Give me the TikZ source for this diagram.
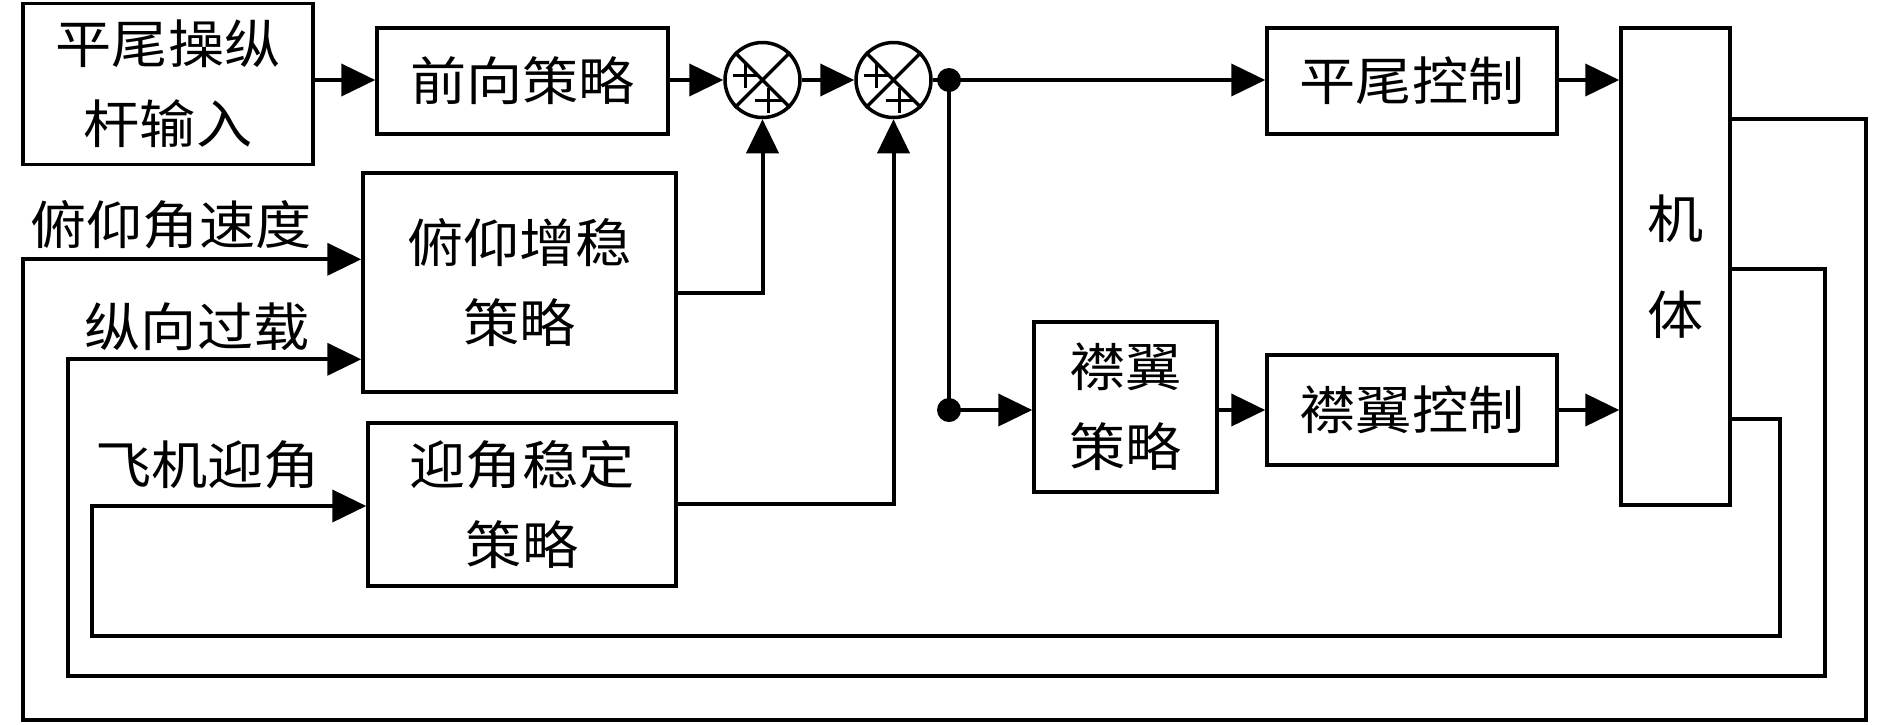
\documentclass[tikz,border=0pt]{standalone}
\usepackage{fontspec}
\newfontfamily\cjk[FakeStretch=1.08]{Noto Sans CJK SC}
\usetikzlibrary{arrows.meta}
\begin{document}
\begin{tikzpicture}[x=1pt,y=-1pt,
  blk/.style={draw, line width=3.5pt, inner sep=0pt, align=center,
    font={\cjk\fontsize{52}{80}\selectfont}},
  lbl/.style={inner sep=0pt, font={\cjk\fontsize{52}{80}\selectfont}},
  con/.style={line width=4pt},
  arr/.style={con, -{Triangle[length=34pt,width=32pt]}},
  sumnode/.style={draw, circle, line width=3.5pt, minimum size=75pt, inner sep=0pt},
  dotnode/.style={circle, fill, minimum size=24pt, inner sep=0pt}]
\useasboundingbox (0,0) rectangle (1890,724);

% blocks
\node[blk, minimum width=290pt, minimum height=161pt] (in1) at (168,84) {平尾操纵\\杆输入};
\node[blk, minimum width=291pt, minimum height=106pt] (fwd) at (522.5,81) {前向策略};
\node[sumnode] (s1) at (762.5,80) {};
\node[sumnode] (s2) at (893.5,80) {};
\node[dotnode] (d1) at (949,80) {};
\node[blk, minimum width=290pt, minimum height=106pt] (htc) at (1412,81) {平尾控制};
\node[blk, minimum width=109pt, minimum height=477pt] (body) at (1675.5,266.5) {机\\[16pt]体};
\node[blk, minimum width=313pt, minimum height=219pt] (pitch) at (519.5,282.5) {俯仰增稳\\策略};
\node[blk, minimum width=308pt, minimum height=163pt] (aoa) at (522,504.5) {迎角稳定\\策略};
\node[blk, minimum width=183pt, minimum height=170pt] (flaps) at (1125.5,407) {襟翼\\策略};
\node[blk, minimum width=290pt, minimum height=110pt] (flapc) at (1412,410) {襟翼控制};
\node[dotnode] (d2) at (949,410) {};

% input labels
\node[lbl] (l1) at (171,225) {俯仰角速度};
\node[lbl] (l2) at (197,327) {纵向过载};
\node[lbl] (l3) at (207.5,465) {飞机迎角};

% summing junction marks
\foreach \s in {s1,s2}{
  \draw[line width=3.5pt] (\s.north west) -- (\s.south east)
                          (\s.north east) -- (\s.south west);
  \draw[line width=3pt] ([shift={(-30,-5)}]\s.center) -- ++(25,0)
                        ([shift={(-17.5,-17.5)}]\s.center) -- ++(0,25);
  \draw[line width=3pt] ([shift={(-8,20)}]\s.center) -- ++(27,0)
                        ([shift={(5.5,7.5)}]\s.center) -- ++(0,25);
}

% helper coordinates
\coordinate (ya) at (0,80);
\coordinate (yb) at (0,410);
\coordinate (p1) at (0,292.7);
\coordinate (p2) at (0,504);
\coordinate (r1) at (0,119);
\coordinate (r2) at (0,269);
\coordinate (r3) at (0,418.7);
\coordinate (f1) at (1866,720);
\coordinate (f2) at (1825,676);
\coordinate (f3) at (1780,636);
\coordinate (g1) at (23,259.3);
\coordinate (g2) at (67.5,359.3);
\coordinate (g3) at (91.6,506);

% forward path
\draw[arr] (in1.east |- ya) -- (fwd.west |- ya);
\draw[arr] (fwd.east |- ya) -- (s1.west);
\draw[arr] (s1.east) -- (s2.west);
\draw[con] (s2.east) -- (d1.center);
\draw[arr] (d1.center) -- (htc.west |- ya);
\draw[arr] (htc.east |- ya) -- (body.west |- ya);
\draw[con] (d1.center) -- (d2.center);
\draw[arr] (d2.center) -- (flaps.west |- yb);
\draw[arr] (flaps.east |- yb) -- (flapc.west |- yb);
\draw[arr] (flapc.east |- yb) -- (body.west |- yb);

% stabilisation outputs
\draw[arr] (pitch.east |- p1) -| (s1.south);
\draw[arr] (aoa.east |- p2) -| (s2.south);

% feedback loops
\draw[arr] (body.east |- r1) -| (f1) -| (g1) -- (g1 -| pitch.west);
\draw[arr] (body.east |- r2) -| (f2) -| (g2) -- (g2 -| pitch.west);
\draw[arr] (body.east |- r3) -| (f3) -| (g3) -- (g3 -| aoa.west);
\end{tikzpicture}
\end{document}
